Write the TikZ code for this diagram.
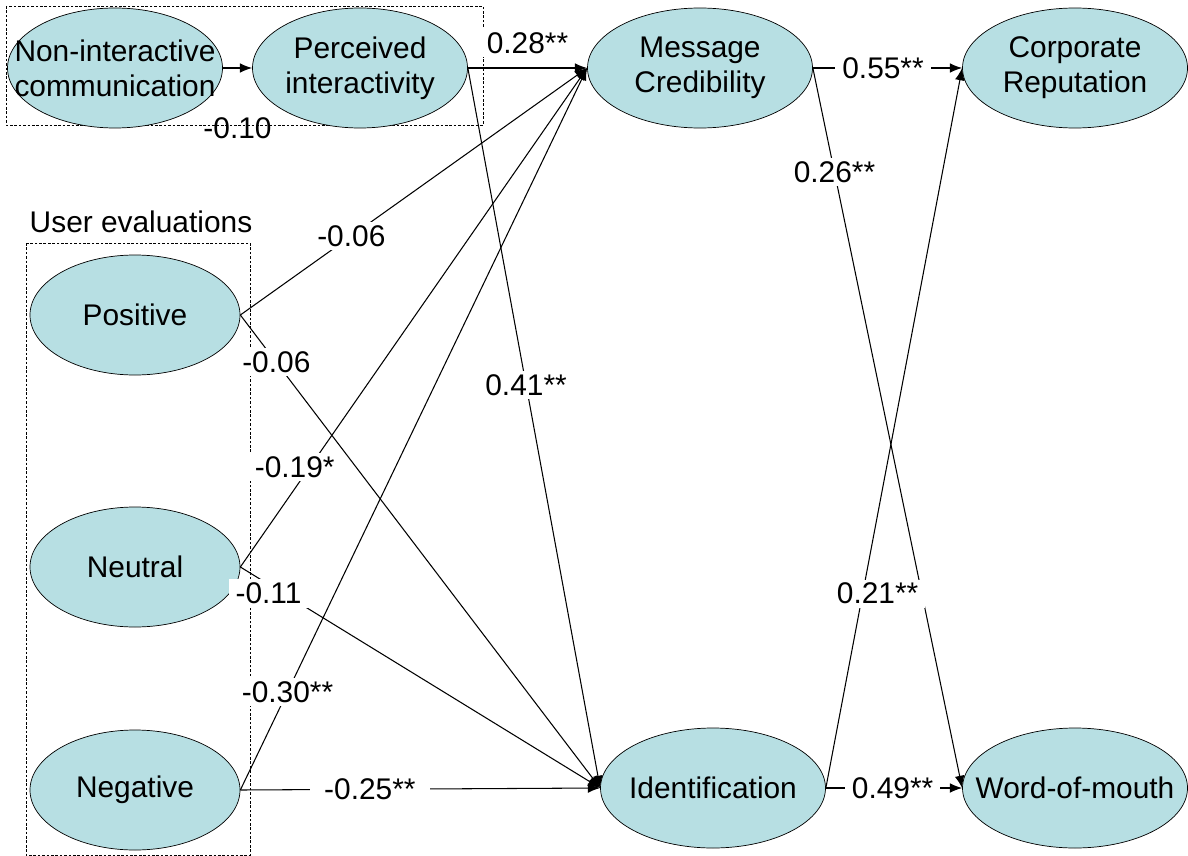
\documentclass[tikz,border=0pt]{standalone}
\usepackage{fontspec}
\setmainfont{Liberation Sans}
\usetikzlibrary{arrows.meta,shapes.geometric}
\definecolor{latent}{RGB}{183,223,227}
\begin{document}
\begin{tikzpicture}[
    every node/.style={font=\fontsize{17}{20}\selectfont},
    var/.style={ellipse, draw, fill=latent, align=center, inner xsep=-0.8cm, inner ysep=-0.3cm,
      minimum width=4.5cm, minimum height=2.4cm},
    path/.style={line width=0.6pt, -{Latex[length=7pt,width=5.5pt]}},
    coef/.style={fill=white, inner xsep=4pt, inner ysep=2pt},
    grp/.style={draw, dash pattern=on 1.5pt off 1pt, thin}]
  \useasboundingbox (0,0) rectangle (23.76,-17.12);
  % groups
  \draw[grp] (0.12,-0.12) rectangle (9.66,-2.5);
  \draw[grp] (0.52,-4.86) rectangle (5.0,-17.1);
  \node (usr) at (2.82,-4.44) {User evaluations};
  % variables
  \node[var, minimum width=4.3cm] (nonint) at (2.3,-1.36) {Non-interactive\\communication};
  \node[var, minimum width=4.3cm] (perc) at (7.2,-1.36) {Perceived\\interactivity};
  \node[var] (msg) at (14.0,-1.36) {Message\\Credibility};
  \node[var] (corp) at (21.5,-1.36) {Corporate\\Reputation};
  \node[var, minimum width=4.2cm] (posev) at (2.7,-6.3) {Positive};
  \node[var, minimum width=4.2cm] (neuev) at (2.7,-11.34) {Neutral};
  \node[var, minimum width=4.2cm] (negev) at (2.7,-15.8) {Negative};
  \node[var] (ident) at (14.26,-15.76) {Identification};
  \node[var] (wom) at (21.5,-15.76) {Word-of-mouth};
  % paths
  \draw[path] (nonint.east) -- node[pos=.5, yshift=-1.2cm] {-0.10} (perc.west);
  \draw[path] (perc.east) -- node[coef, above=0.2cm] {0.28**} (msg.west);
  \draw[path] (perc.east) -- node[coef, pos=.44] {0.41**} (ident.west);
  \draw[path] (posev.east) -- node[coef, pos=.32] {-0.06} (msg.west);
  \draw[path] (posev.east) -- node[coef, pos=.1] {-0.06} (ident.west);
  \draw[path] (neuev.east) -- node[coef, pos=.2, xshift=-0.3cm] {-0.19*} (msg.west);
  \draw[path] (neuev.east) -- node[coef, pos=.12, xshift=-0.3cm] {-0.11} (ident.west);
  \draw[path] (negev.east) -- node[coef, pos=.136] {-0.30**} (msg.west);
  \draw[path] (negev.east) -- node[coef, pos=.36, inner xsep=8pt] {-0.25**} (ident.west);
  \draw[path] (msg.east) -- node[coef, pos=.47] {0.55**} (corp.west);
  \draw[path] (msg.east) -- node[coef, pos=.145] {0.26**} (wom.west);
  \draw[path] (ident.east) -- node[coef, pos=.27, xshift=0.3cm] {0.21**} (corp.west);
  \draw[path] (ident.east) -- node[coef, pos=.49] {0.49**} (wom.west);
\end{tikzpicture}
\end{document}
